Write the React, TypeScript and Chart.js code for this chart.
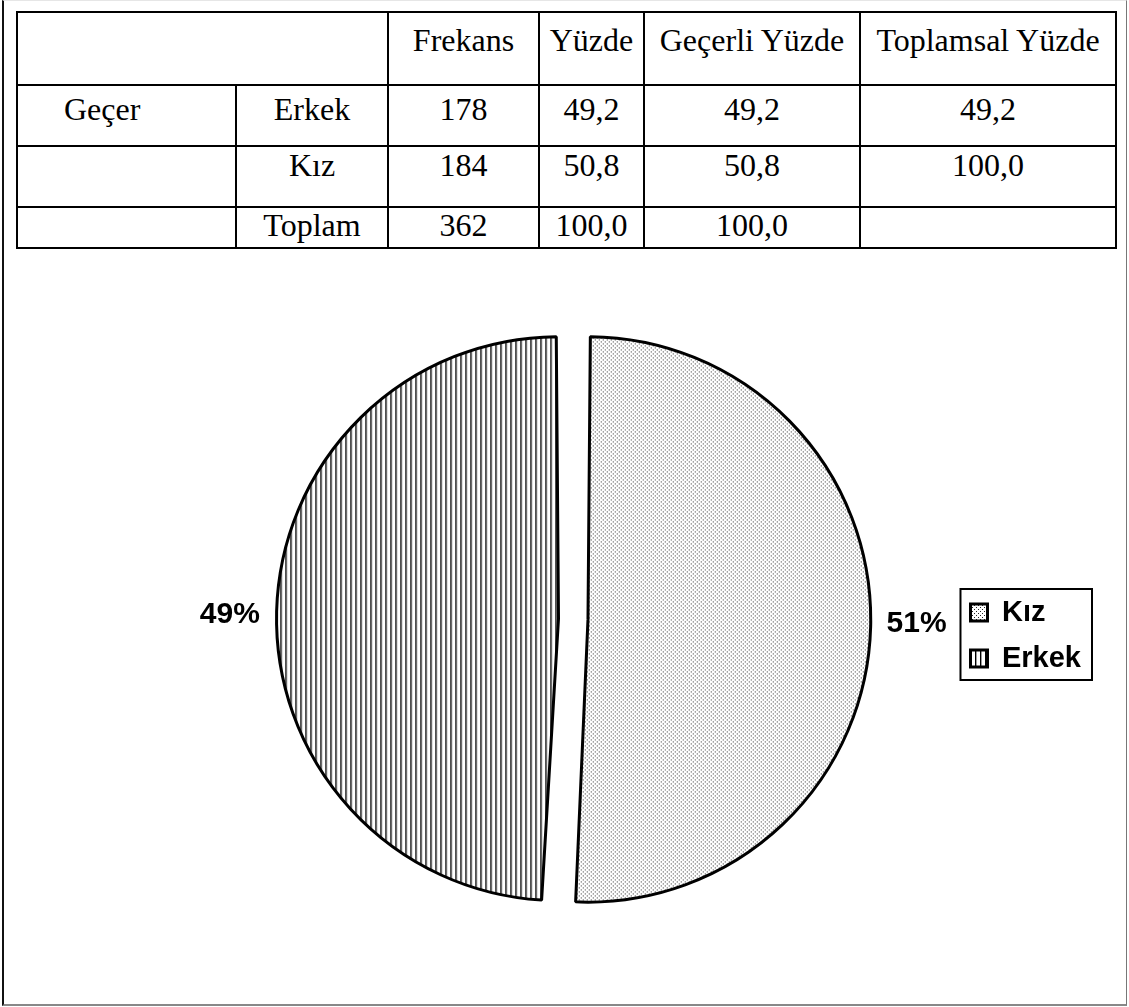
import React, { useEffect, useRef } from "react";
import { Chart, registerables } from "chart.js";

Chart.register(...registerables);

// ---- Table data ----
const headerCells = ["Frekans", "Yüzde", "Geçerli Yüzde", "Toplamsal Yüzde"];
const groupLabels = ["Geçer", "", ""];
const rowLabels = ["Erkek", "Kız", "Toplam"];
const frekans = ["178", "184", "362"];
const yuzde = ["49,2", "50,8", "100,0"];
const gecerliYuzde = ["49,2", "50,8", "100,0"];
const toplamsalYuzde = ["49,2", "100,0", ""];

// ---- Pie data ----
const pieLabels = ["Kız", "Erkek"];
const pieValues = [184, 178];

const SANS = "'Liberation Sans', Arial, sans-serif";
const SERIF = "'Liberation Serif', 'Times New Roman', serif";

function makeDotPattern(ctx: CanvasRenderingContext2D) {
  const c = document.createElement("canvas");
  c.width = 4;
  c.height = 4;
  const g = c.getContext("2d")!;
  g.fillStyle = "#ffffff";
  g.fillRect(0, 0, 4, 4);
  g.fillStyle = "#262626";
  g.fillRect(0, 0, 1, 1);
  g.fillRect(2, 2, 1, 1);
  return ctx.createPattern(c, "repeat")!;
}

function makeLinePattern(ctx: CanvasRenderingContext2D) {
  const c = document.createElement("canvas");
  c.width = 5;
  c.height = 5;
  const g = c.getContext("2d")!;
  g.fillStyle = "#ffffff";
  g.fillRect(0, 0, 5, 5);
  g.fillStyle = "#000000";
  g.fillRect(0, 0, 1, 5);
  g.fillStyle = "#9a9a9a";
  g.fillRect(1, 0, 1, 5);
  return ctx.createPattern(c, "repeat")!;
}

const legendBoxPlugin = {
  id: "legendBox",
  afterDraw(chart: any) {
    const lg = chart.legend;
    if (!lg || !lg.legendHitBoxes || !lg.legendHitBoxes.length) return;
    const hb = lg.legendHitBoxes;
    let l = Infinity, t = Infinity, r = -Infinity, b = -Infinity;
    hb.forEach((h: any) => {
      l = Math.min(l, h.left);
      t = Math.min(t, h.top);
      r = Math.max(r, h.left + h.width);
      b = Math.max(b, h.top + h.height);
    });
    const ctx = chart.ctx;
    ctx.save();
    ctx.strokeStyle = "#000";
    ctx.lineWidth = 2;
    ctx.strokeRect(l - 10, t - 9, r - l + 21, b - t + 16);
    ctx.restore();
  },
};

const percentLabelPlugin = {
  id: "percentLabels",
  afterDatasetsDraw(chart: any) {
    const meta = chart.getDatasetMeta(0);
    const ds = chart.data.datasets[0];
    const values = ds.data as number[];
    const total = values.reduce((a, v) => a + v, 0);
    const ctx = chart.ctx;
    ctx.save();
    ctx.font = `bold 30px ${SANS}`;
    ctx.fillStyle = "#000";
    ctx.textAlign = "center";
    ctx.textBaseline = "middle";
    meta.data.forEach((el: any, i: number) => {
      const p = el.getProps(["x", "y", "startAngle", "endAngle", "outerRadius"], true);
      const mid = (p.startAngle + p.endAngle) / 2;
      const off = (el.options.offset || 0) / 4;
      const dist = p.outerRadius + 2 * off + 46;
      const tx = p.x + Math.cos(mid) * dist;
      const ty = p.y + Math.sin(mid) * dist * 0.5 + (p.y - p.y);
      ctx.fillText(Math.round((values[i] / total) * 100) + "%", tx, p.y + (ty - p.y));
    });
    ctx.restore();
  },
};

function PieChart() {
  const ref = useRef<HTMLCanvasElement | null>(null);
  useEffect(() => {
    const canvas = ref.current!;
    const ctx = canvas.getContext("2d")!;
    const dots = makeDotPattern(ctx);
    const lines = makeLinePattern(ctx);
    const chart = new Chart(canvas, {
      type: "pie",
      data: {
        labels: pieLabels,
        datasets: [
          {
            data: pieValues,
            backgroundColor: [dots, lines] as any,
            borderColor: "#000",
            borderWidth: 3,
            offset: 59,
            hoverOffset: 0,
            radius: 268,
          } as any,
        ],
      },
      options: {
        responsive: false,
        animation: false,
        layout: { padding: { left: 193, right: 38, top: 0, bottom: 0 } },
        plugins: {
          tooltip: { enabled: false },
          legend: {
            position: "right",
            align: "center",
            title: { display: true, text: "", font: { size: 10 }, padding: { top: 10, bottom: 11 } },
            labels: {
              boxWidth: 17,
              boxHeight: 17,
              padding: 17,
              color: "#000",
              font: { family: SANS, size: 29, weight: "bold" },
            },
          },
        },
      },
      plugins: [legendBoxPlugin, percentLabelPlugin],
    });
    return () => chart.destroy();
  }, []);
  return (
    <canvas
      ref={ref}
      width={1129}
      height={720}
      style={{ position: "absolute", left: 0, top: 259, width: 1129, height: 720, display: "block" }}
    />
  );
}

const cellBase: React.CSSProperties = {
  border: "2px solid #000",
  verticalAlign: "top",
  textAlign: "center",
  padding: 0,
  lineHeight: "30px",
  whiteSpace: "nowrap",
};

const rowPads = [8, 3, 2];
const rowHeights = [61, 61, 41];

export default function App() {
  return (
    <div
      style={{
        position: "absolute",
        left: 0,
        top: 0,
        width: 1129,
        height: 1007,
        background: "#fff",
        overflow: "hidden",
        fontFamily: SERIF,
      }}
    >
      <div
        style={{
          position: "absolute",
          left: 2,
          top: 0,
          width: 1122,
          height: 1003,
          borderLeft: "2px solid #111",
          borderTop: "1px solid #e6e6e6",
          borderRight: "1px solid #777",
          borderBottom: "2px solid #888",
        }}
      />
      <table
        style={{
          position: "absolute",
          left: 16,
          top: 11,
          width: 1100,
          borderCollapse: "collapse",
          tableLayout: "fixed",
          fontSize: 32,
          color: "#000",
        }}
      >
        <colgroup>
          <col style={{ width: 219 }} />
          <col style={{ width: 152 }} />
          <col style={{ width: 151 }} />
          <col style={{ width: 105 }} />
          <col style={{ width: 216 }} />
          <col style={{ width: 256 }} />
        </colgroup>
        <tbody>
          <tr style={{ height: 73 }}>
            <td colSpan={2} style={{ ...cellBase, paddingTop: 12 }}></td>
            {headerCells.map((h) => (
              <td key={h} style={{ ...cellBase, paddingTop: 12 }}>
                {h}
              </td>
            ))}
          </tr>
          {rowLabels.map((lab, i) => (
            <tr key={lab} style={{ height: rowHeights[i] }}>
              <td style={{ ...cellBase, paddingTop: rowPads[i], textAlign: "left", paddingLeft: 46 }}>{groupLabels[i]}</td>
              <td style={{ ...cellBase, paddingTop: rowPads[i] }}>{lab}</td>
              <td style={{ ...cellBase, paddingTop: rowPads[i] }}>{frekans[i]}</td>
              <td style={{ ...cellBase, paddingTop: rowPads[i] }}>{yuzde[i]}</td>
              <td style={{ ...cellBase, paddingTop: rowPads[i] }}>{gecerliYuzde[i]}</td>
              <td style={{ ...cellBase, paddingTop: rowPads[i] }}>{toplamsalYuzde[i]}</td>
            </tr>
          ))}
        </tbody>
      </table>
      <PieChart />
    </div>
  );
}
